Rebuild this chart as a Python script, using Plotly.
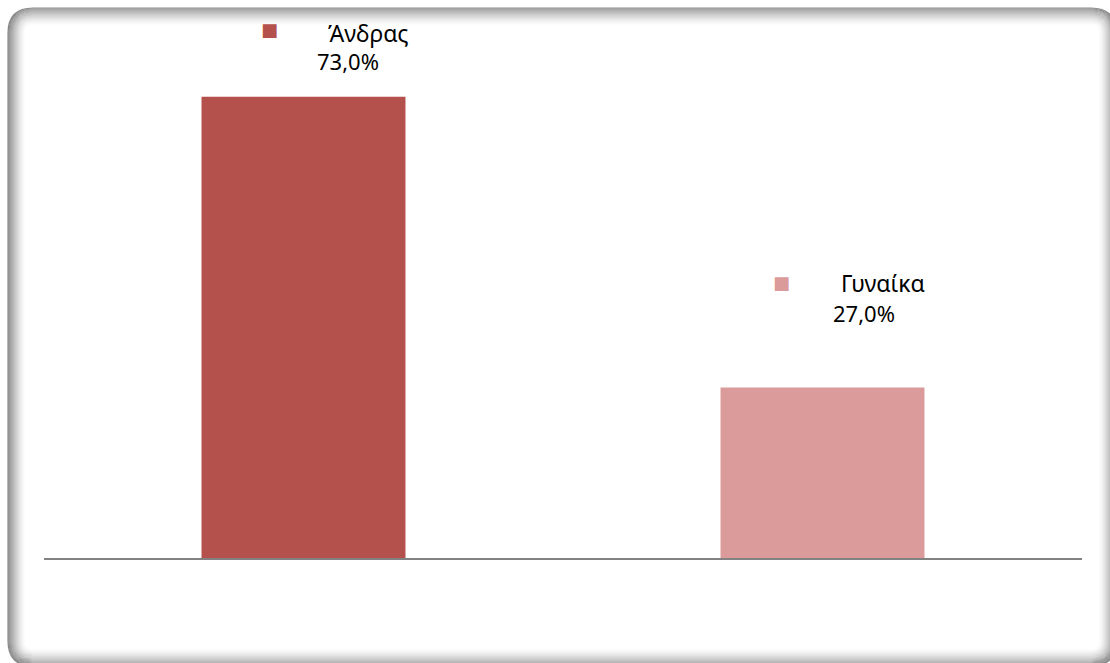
import plotly.graph_objects as go

# Share of respondents by gender (%)
categories = ["Άνδρας", "Γυναίκα"]
values = [73.0, 27.0]
value_labels = ["73,0%", "27,0%"]
bar_colors = ["#B5514D", "#DA9B9A"]

W, H = 1110, 663
M_L, M_R, M_T, M_B = 44, 28, 21, 105
PLOT_W = W - M_L - M_R
PLOT_H = H - M_T - M_B


def px_to_paper(x, y):
    return (x - M_L) / PLOT_W, 1 - (y - M_T) / PLOT_H


def rounded_rect_path(x0, y0, x1, y1, r):
    pts = []

    def p(x, y):
        px, py = px_to_paper(x, y)
        return f"{px:.5f},{py:.5f}"

    pts.append(f"M{p(x0 + r, y0)}")
    pts.append(f"L{p(x1 - r, y0)}")
    pts.append(f"Q{p(x1, y0)} {p(x1, y0 + r)}")
    pts.append(f"L{p(x1, y1 - r)}")
    pts.append(f"Q{p(x1, y1)} {p(x1 - r, y1)}")
    pts.append(f"L{p(x0 + r, y1)}")
    pts.append(f"Q{p(x0, y1)} {p(x0, y1 - r)}")
    pts.append(f"L{p(x0, y0 + r)}")
    pts.append(f"Q{p(x0, y0)} {p(x0 + r, y0)}")
    pts.append("Z")
    return " ".join(pts)


fig = go.Figure()
for cat, val, col in zip(categories, values, bar_colors):
    fig.add_trace(go.Bar(
        x=[cat], y=[val],
        marker=dict(color=col, line=dict(width=0)),
        width=0.393,
        showlegend=False,
        hoverinfo="skip",
    ))

# Frame with soft inner shading
shapes = []
N = 18
for i in range(N):
    a = 0.66 * (1 - i / N) ** 1.6
    shapes.append(dict(
        type="path", xref="paper", yref="paper",
        path=rounded_rect_path(8 + i, 8 + i, 1116 - i, 666 - i, max(25 - i, 6)),
        line=dict(color=f"rgba(80,80,80,{a:.3f})", width=1.2),
        fillcolor="rgba(0,0,0,0)",
        layer="below",
    ))

# Label placement per bar: (square dx, dy), (name dx, dy), (value dx, dy)
label_offsets = [
    ((-34, 67), (22, 64), (44, 36)),
    ((-41, 105), (16, 104), (41, 74)),
]

annotations = []
font_family = "Noto Sans, Open Sans, sans-serif"
for cat, val, lab, col, offs in zip(categories, values, value_labels, bar_colors, label_offsets):
    (sx, sy), (nx, ny), (vx, vy) = offs
    annotations.append(dict(
        x=cat, y=val, xref="x", yref="y", text="■", showarrow=False,
        xshift=sx, yshift=sy, xanchor="center", yanchor="middle",
        font=dict(family="DejaVu Sans", size=18, color=col),
    ))
    annotations.append(dict(
        x=cat, y=val, xref="x", yref="y", text=cat, showarrow=False,
        xshift=nx, yshift=ny, xanchor="left", yanchor="middle",
        font=dict(family=font_family, size=23, color="#000000"),
    ))
    annotations.append(dict(
        x=cat, y=val, xref="x", yref="y", text=lab, showarrow=False,
        xshift=vx, yshift=vy, xanchor="center", yanchor="middle",
        font=dict(family=font_family, size=22, color="#000000"),
    ))

fig.update_layout(
    width=W, height=H,
    margin=dict(l=M_L, r=M_R, t=M_T, b=M_B, pad=0),
    paper_bgcolor="white", plot_bgcolor="white",
    bargap=0.607,
    xaxis=dict(
        type="category", range=[-0.5, 1.5],
        showline=True, linecolor="#828282", linewidth=2,
        showticklabels=False, ticks="", showgrid=False, zeroline=False,
        fixedrange=True,
    ),
    yaxis=dict(
        range=[0, 85], visible=False, showgrid=False, zeroline=False,
        fixedrange=True,
    ),
    shapes=shapes,
    annotations=annotations,
)

fig.write_html("out.html", config={"displayModeBar": False})
